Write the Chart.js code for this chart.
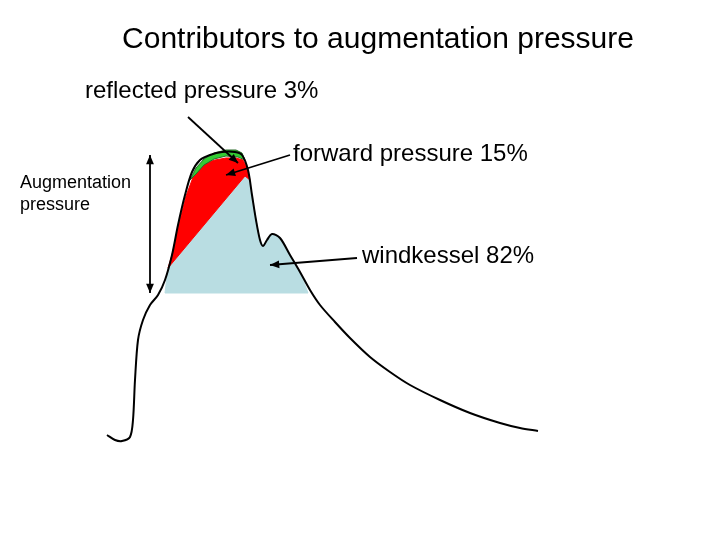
<!DOCTYPE html>
<html>
<head>
<meta charset="UTF-8">
<script src="https://cdn.jsdelivr.net/npm/chart.js@4"></script>
<style>
  body { margin: 0; background: #fff; }
  #wrap { width: 720px; height: 540px; }
</style>
</head>
<body>
<div id="wrap"><canvas id="c"></canvas></div>
<script>
// waveform (x, y in picture units, y downwards)
const waveX = [107,115,122,130,133,135,138,143,150,158,165,172,178,185,192,200,210,222,235,242,248,252,256,260,263,267,272,280,290,300,310,320,335,350,370,390,410,440,470,500,520,538];
const waveY = [435,440,441,437,420,380,340,320,305,295,280,255,225,195,172,160,155,152,152,155,170,195,220,240,246,240,234,238,255,272,290,305,322,338,357,372,385,400,413,423,428,431];

const blueX = [165,308,300,290,280,272,267,263,260,256,252,248,245,168,165];
const blueY = [293,293,272,255,238,234,240,246,240,220,195,178,176,268,293];
const redX = [168,172,178,186,195,205,215,226,236,243,247,250,245,168];
const redY = [268,255,228,196,172,163,160,158,158,160,168,180,176,268];
const greenX = [190,196,204,214,226,236,242,245,238,226,214,204,196,190];
const greenY = [180,168,159,153,150,150,153,160,157,156,159,165,174,180];

// arrows: [x1, y1, x2, y2, double-headed]
const arrows = [
  [150,155,150,293,true],
  [188,117,238,163,false],
  [290,155,226,175,false],
  [357,258,270,265,false]
];
// labels: [text, x, y, size, align]
const labels = [
  ['Contributors to augmentation pressure',378,40,30,'center'],
  ['reflected pressure 3%',85,91,24,'left'],
  ['forward pressure 15%',293,154,24,'left'],
  ['Augmentation',20,183,18,'left'],
  ['pressure',20,205,18,'left'],
  ['windkessel 82%',362,256,24,'left']
];

const pts = (xs, ys) => xs.map((x, i) => ({x: x, y: ys[i]}));

const annot = {
  id: 'annot',
  afterDatasetsDraw(chart) {
    const ctx = chart.ctx, sx = chart.scales.x, sy = chart.scales.y;
    ctx.save();
    ctx.strokeStyle = '#000'; ctx.fillStyle = '#000'; ctx.lineWidth = 1.8;
    const head = (x1, y1, x2, y2) => {
      const a = Math.atan2(y2 - y1, x2 - x1), L = 10;
      ctx.beginPath();
      ctx.moveTo(x2, y2);
      ctx.lineTo(x2 - L * Math.cos(a - 0.4), y2 - L * Math.sin(a - 0.4));
      ctx.lineTo(x2 - L * Math.cos(a + 0.4), y2 - L * Math.sin(a + 0.4));
      ctx.closePath(); ctx.fill();
    };
    arrows.forEach(a => {
      const x1 = sx.getPixelForValue(a[0]), y1 = sy.getPixelForValue(a[1]);
      const x2 = sx.getPixelForValue(a[2]), y2 = sy.getPixelForValue(a[3]);
      ctx.beginPath(); ctx.moveTo(x1, y1); ctx.lineTo(x2, y2); ctx.stroke();
      head(x1, y1, x2, y2);
      if (a[4]) head(x2, y2, x1, y1);
    });
    ctx.textBaseline = 'middle';
    labels.forEach(l => {
      ctx.font = l[3] + 'px "Liberation Sans", Arial, sans-serif';
      ctx.textAlign = l[4];
      ctx.fillText(l[0], sx.getPixelForValue(l[1]), sy.getPixelForValue(l[2]));
    });
    ctx.restore();
  }
};

new Chart(document.getElementById('c'), {
  type: 'line',
  data: {
    datasets: [
      {data: pts(waveX, waveY), borderColor: '#000', borderWidth: 2, fill: false, tension: 0.3, order: 0},
      {data: pts(greenX, greenY), borderColor: '#2a6a2a', borderWidth: 1, backgroundColor: '#33cc33', fill: 'shape', order: 1},
      {data: pts(redX, redY), borderColor: '#ff0000', borderWidth: 1, backgroundColor: '#ff0000', fill: 'shape', order: 2},
      {data: pts(blueX, blueY), borderColor: '#b9dde2', borderWidth: 1, backgroundColor: '#b9dde2', fill: 'shape', order: 3}
    ]
  },
  options: {
    responsive: true, maintainAspectRatio: false, animation: false,
    layout: {padding: 0},
    elements: {point: {radius: 0}},
    plugins: {legend: {display: false}, tooltip: {enabled: false}, title: {display: false}},
    scales: {
      x: {type: 'linear', min: 0, max: 720, display: false},
      y: {type: 'linear', min: 0, max: 540, reverse: true, display: false}
    }
  },
  plugins: [annot]
});
</script>
</body>
</html>
